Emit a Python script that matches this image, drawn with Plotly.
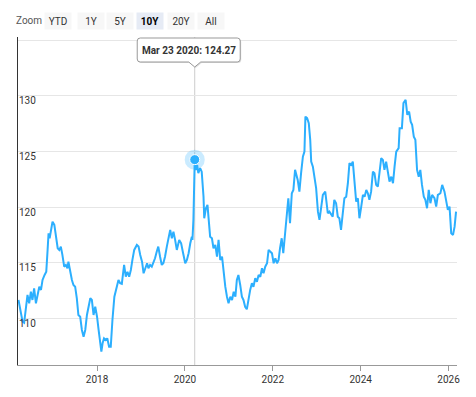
import plotly.graph_objects as go

dates = [
    "2016-03-19", "2016-04-03", "2016-04-22", "2016-05-05", "2016-05-19", "2016-06-02", "2016-06-16", "2016-06-30", "2016-07-13", "2016-07-27",
    "2016-08-11", "2016-08-24", "2016-09-08", "2016-09-22", "2016-10-05", "2016-10-22", "2016-11-05", "2016-11-16", "2016-11-24", "2016-12-03",
    "2016-12-14", "2016-12-27", "2017-01-11", "2017-01-25", "2017-02-08", "2017-02-21", "2017-03-06", "2017-03-19", "2017-04-03", "2017-04-17",
    "2017-04-30", "2017-05-08", "2017-05-22", "2017-06-06", "2017-06-19", "2017-07-03", "2017-07-17", "2017-07-30", "2017-08-14", "2017-08-28",
    "2017-09-11", "2017-09-25", "2017-10-09", "2017-10-22", "2017-11-06", "2017-11-19", "2017-12-03", "2017-12-17", "2018-01-01", "2018-01-14",
    "2018-01-28", "2018-02-06", "2018-02-16", "2018-02-28", "2018-03-14", "2018-03-27", "2018-04-11", "2018-04-25", "2018-05-09", "2018-05-25",
    "2018-06-28", "2018-07-12", "2018-07-26", "2018-08-14", "2018-08-28", "2018-09-11", "2018-09-25", "2018-10-09", "2018-10-22", "2018-11-06",
    "2018-11-28", "2018-12-12", "2018-12-26", "2019-01-10", "2019-01-23", "2019-02-07", "2019-02-21", "2019-03-04", "2019-03-18", "2019-04-01",
    "2019-04-14", "2019-04-28", "2019-05-12", "2019-05-25", "2019-06-09", "2019-06-23", "2019-07-06", "2019-07-20", "2019-08-04", "2019-08-17",
    "2019-09-01", "2019-09-15", "2019-09-28", "2019-10-12", "2019-10-26", "2019-11-15", "2019-12-01", "2019-12-15", "2020-01-04", "2020-01-18",
    "2020-02-01", "2020-02-15", "2020-02-28", "2020-03-04", "2020-03-12", "2020-03-23", "2020-04-01", "2020-04-12", "2020-04-22", "2020-05-07",
    "2020-05-20", "2020-06-04", "2020-06-10", "2020-06-24", "2020-07-07", "2020-07-15", "2020-07-29", "2020-08-13", "2020-08-26", "2020-09-10",
    "2020-09-24", "2020-10-07", "2020-10-21", "2020-11-05", "2020-11-18", "2020-12-02", "2020-12-16", "2020-12-29", "2021-01-13", "2021-01-27",
    "2021-02-10", "2021-02-24", "2021-03-08", "2021-03-21", "2021-04-05", "2021-04-19", "2021-05-02", "2021-05-16", "2021-05-30", "2021-06-13",
    "2021-06-27", "2021-07-11", "2021-07-24", "2021-08-08", "2021-08-22", "2021-09-05", "2021-09-19", "2021-10-03", "2021-10-16", "2021-10-30",
    "2021-11-14", "2021-11-27", "2021-12-11", "2021-12-25", "2022-01-08", "2022-01-22", "2022-02-05", "2022-02-18", "2022-03-02", "2022-03-16",
    "2022-03-29", "2022-04-13", "2022-04-27", "2022-05-10", "2022-05-24", "2022-06-08", "2022-06-21", "2022-07-05", "2022-07-27", "2022-08-10",
    "2022-08-24", "2022-09-08", "2022-09-21", "2022-09-29", "2022-10-13", "2022-10-27", "2022-11-08", "2022-11-16", "2022-11-30", "2022-12-13",
    "2022-12-27", "2023-01-11", "2023-01-24", "2023-02-08", "2023-02-21", "2023-03-13", "2023-04-03", "2023-04-16", "2023-04-30", "2023-05-14",
    "2023-05-27", "2023-06-11", "2023-06-25", "2023-07-08", "2023-07-22", "2023-08-06", "2023-08-19", "2023-09-03", "2023-09-17", "2023-09-30",
    "2023-10-14", "2023-10-28", "2023-11-11", "2023-11-25", "2023-12-09", "2023-12-22", "2024-01-06", "2024-01-20", "2024-02-03", "2024-02-17",
    "2024-03-01", "2024-03-14", "2024-03-28", "2024-04-12", "2024-04-25", "2024-05-09", "2024-05-23", "2024-06-06", "2024-06-20", "2024-07-04",
    "2024-07-17", "2024-07-31", "2024-08-15", "2024-08-28", "2024-09-12", "2024-09-26", "2024-10-09", "2024-10-23", "2024-11-12", "2024-11-20",
    "2024-12-09", "2024-12-22", "2025-01-09", "2025-01-23", "2025-02-07", "2025-02-20", "2025-03-04", "2025-03-18", "2025-03-31", "2025-04-14",
    "2025-04-28", "2025-05-11", "2025-05-25", "2025-06-09", "2025-06-22", "2025-07-06", "2025-07-20", "2025-08-03", "2025-08-17", "2025-09-06",
    "2025-09-20", "2025-10-04", "2025-10-25", "2025-11-09", "2025-11-28", "2025-12-12", "2025-12-26", "2026-01-09", "2026-01-23", "2026-02-07",
    "2026-02-20", "2026-03-04",
]

values = [
    111.65, 110.75, 109.69, 109.60, 111.04, 112.10, 111.35, 112.39, 111.65, 112.70,
    111.35, 111.94, 112.84, 112.55, 113.45, 113.90, 114.19, 116.15, 117.65, 117.20,
    117.95, 118.69, 118.40, 117.34, 116.30, 116.15, 116.44, 115.70, 114.64, 114.80,
    114.50, 115.09, 114.19, 113.45, 113.00, 112.84, 111.80, 110.30, 110.14, 108.95,
    108.34, 108.95, 110.30, 111.04, 111.80, 111.65, 110.30, 111.04, 110.14, 108.95,
    107.75, 107.00, 107.75, 108.20, 108.05, 108.20, 107.44, 107.44, 109.85, 111.94,
    113.45, 113.15, 113.09, 114.80, 113.74, 114.19, 113.74, 114.35, 115.25, 116.15,
    116.60, 116.45, 115.70, 115.09, 114.05, 114.50, 114.95, 114.50, 114.80, 114.64,
    114.95, 115.40, 115.99, 116.45, 115.54, 114.80, 114.95, 115.54, 116.45, 117.34,
    117.95, 117.20, 117.79, 117.05, 116.15, 117.05, 116.75, 115.99, 114.95, 115.25,
    115.85, 116.75, 117.34, 117.05, 118.85, 124.27, 123.35, 123.80, 123.05, 123.50,
    123.19, 120.94, 119.00, 119.90, 120.20, 119.14, 117.34, 117.20, 116.30, 116.60,
    115.54, 117.05, 115.25, 115.54, 114.05, 112.84, 111.94, 111.35, 111.94, 111.65,
    112.39, 111.94, 113.45, 113.90, 113.00, 111.94, 111.65, 111.04, 110.81, 111.80,
    112.55, 113.15, 112.84, 113.60, 113.29, 113.90, 113.74, 114.50, 114.05, 114.64,
    114.95, 116.15, 115.99, 115.85, 114.95, 115.40, 114.95, 115.25, 116.30, 117.20,
    115.85, 117.59, 119.75, 120.80, 118.55, 121.25, 121.55, 123.35, 122.45, 121.39,
    123.05, 124.54, 124.99, 128.14, 128.00, 127.55, 126.05, 124.09, 123.64, 122.60,
    121.70, 119.59, 118.85, 120.04, 121.10, 121.39, 119.45, 119.59, 119.30, 119.14,
    120.65, 120.35, 119.14, 119.00, 117.95, 119.45, 120.80, 120.94, 122.15, 123.95,
    123.80, 124.09, 122.15, 120.49, 120.80, 119.00, 120.04, 121.10, 120.94, 121.55,
    121.25, 120.65, 121.39, 123.19, 123.05, 122.00, 121.84, 123.35, 124.40, 124.25,
    123.35, 124.09, 123.05, 122.29, 122.74, 122.15, 123.64, 124.99, 125.30, 127.10,
    127.10, 129.35, 129.65, 128.30, 128.59, 127.69, 127.40, 126.34, 126.05, 123.35,
    122.74, 123.35, 122.00, 120.94, 120.65, 119.90, 121.55, 120.35, 121.10, 120.80,
    120.04, 121.10, 121.25, 122.00, 121.39, 120.65, 119.75, 120.04, 117.65, 117.50,
    118.24, 119.59,
]
assert len(dates) == len(values)

# highlighted (hovered) point
hl_date = "2020-03-23"
hl_label = "Mar 23 2020"
hl_value = 124.27

x_range = ["2016-03-15", "2026-03-12"]
y_range = [105.8, 135.3]

y_tickvals = [110, 115, 120, 125, 130, 135]
y_ticktext = ["110", "115", "120", "125", "130", ""]
x_tickvals = ["2018-01-01", "2020-01-01", "2022-01-01", "2024-01-01", "2026-01-01"]
x_ticktext = ["2018", "2020", "2022", "2024", "2026"]

zoom_buttons = ["YTD", "1Y", "5Y", "10Y", "20Y", "All"]
active_button = "10Y"

LINE = "#2caffe"
FONT = "Roboto, Arial, sans-serif"

# page body has an 8px default margin: the figure is sized to fill the rest
BODY = 8
W, H = 476 - BODY, 397 - BODY
ML, MR, MT, MB = 18 - BODY, 19, 37 - BODY, 32
PW = W - ML - MR
PH = H - MT - MB
PLOT_LEFT, PLOT_BOTTOM = ML + BODY, H + BODY - MB   # screen pixels


def px_to_paper_x(px):
    return (px - PLOT_LEFT) / PW


def px_to_paper_y(py):
    return (PLOT_BOTTOM - py) / PH


fig = go.Figure()
fig.add_trace(go.Scatter(x=dates, y=values, mode="lines",
                         line=dict(color=LINE, width=2), hoverinfo="skip",
                         showlegend=False))
# halo + hover marker
fig.add_trace(go.Scatter(x=[hl_date], y=[hl_value], mode="markers",
                         marker=dict(size=20, color="rgba(44,175,254,0.25)"),
                         hoverinfo="skip", showlegend=False))
fig.add_trace(go.Scatter(x=[hl_date], y=[hl_value], mode="markers",
                         marker=dict(size=10, color=LINE, line=dict(color="white", width=1)),
                         hoverinfo="skip", showlegend=False))

# crosshair
fig.add_shape(type="line", xref="x", yref="paper", x0=hl_date, x1=hl_date,
              y0=0, y1=1, line=dict(color="#cccccc", width=1), layer="below")

# tooltip box with pointer, anchored at the hovered date (pixel offsets)
TIP = ("M -54.5 -1 L 42.5 -1 Q 45.5 -1 45.5 -4 L 45.5 -22 Q 45.5 -25 42.5 -25 "
       "L 6 -25 L 0 -30 L -6 -25 L -54.5 -25 Q -57.5 -25 -57.5 -22 "
       "L -57.5 -4 Q -57.5 -1 -54.5 -1 Z")
SHADOW = ("M -53.5 -2 L 43.5 -2 Q 46.5 -2 46.5 -5 L 46.5 -23 Q 46.5 -26 43.5 -26 "
          "L 7 -26 L 1 -31 L -5 -26 L -53.5 -26 Q -56.5 -26 -56.5 -23 "
          "L -56.5 -5 Q -56.5 -2 -53.5 -2 Z")
for path, fill, lc, lw in [(SHADOW, "rgba(0,0,0,0.12)", "rgba(0,0,0,0)", 0),
                           (TIP, "white", "#999999", 1)]:
    fig.add_shape(type="path", xref="x", yref="paper",
                  xsizemode="pixel", ysizemode="pixel",
                  xanchor=hl_date, yanchor=1, path=path,
                  fillcolor=fill, line=dict(color=lc, width=lw), layer="above")

annotations = []
annotations.append(dict(
    x=hl_date, xref="x", y=1, yref="paper", xanchor="center", yanchor="middle",
    xshift=-6, yshift=-13, showarrow=False,
    text=f"<b>{hl_label}: {hl_value:.2f}</b>",
    font=dict(family=FONT, size=10, color="#333333")))

# zoom range selector (static)
annotations.append(dict(x=px_to_paper_x(29), y=px_to_paper_y(20.5), xref="paper", yref="paper",
                        xanchor="center", yanchor="middle", showarrow=False, text="Zoom",
                        font=dict(family=FONT, size=10, color="#555555")))
btn_centers = [57.5, 90.5, 119.5, 150.3, 180.5, 211.0]
for lab, cx in zip(zoom_buttons, btn_centers):
    act = lab == active_button
    annotations.append(dict(
        x=px_to_paper_x(cx), y=px_to_paper_y(20.5), xref="paper", yref="paper",
        xanchor="center", yanchor="middle", showarrow=False,
        text=f"<b>{lab}</b>" if act else lab,
        width=26, height=16, borderpad=0,
        bgcolor="#e6ebf5" if act else "#f7f7f7",
        font=dict(family=FONT, size=10, color="#000000" if act else "#333333")))

fig.update_layout(
    width=W, height=H,
    margin=dict(l=ML, r=MR, t=MT, b=MB, autoexpand=False),
    paper_bgcolor="white", plot_bgcolor="white",
    font=dict(family=FONT, size=10, color="#333333"),
    hovermode=False,
    annotations=annotations,
    xaxis=dict(type="date", range=x_range, showgrid=False, zeroline=False,
               automargin=False,
               showline=True, linecolor="#999999", linewidth=1,
               ticks="outside", ticklen=5, tickcolor="#999999",
               tickvals=x_tickvals, ticktext=x_ticktext,
               tickfont=dict(family=FONT, size=10, color="#333333")),
    yaxis=dict(range=y_range, showgrid=True, gridcolor="#e6e6e6", gridwidth=1,
               automargin=False,
               zeroline=False, showline=True, linecolor="#333333", linewidth=1,
               ticks="", tickvals=y_tickvals, ticktext=y_ticktext,
               ticklabelposition="inside", ticklabelshift=5,
               tickfont=dict(family=FONT, size=10, color="#333333")),
)

fig.write_html("out.html", config={"displayModeBar": False})
